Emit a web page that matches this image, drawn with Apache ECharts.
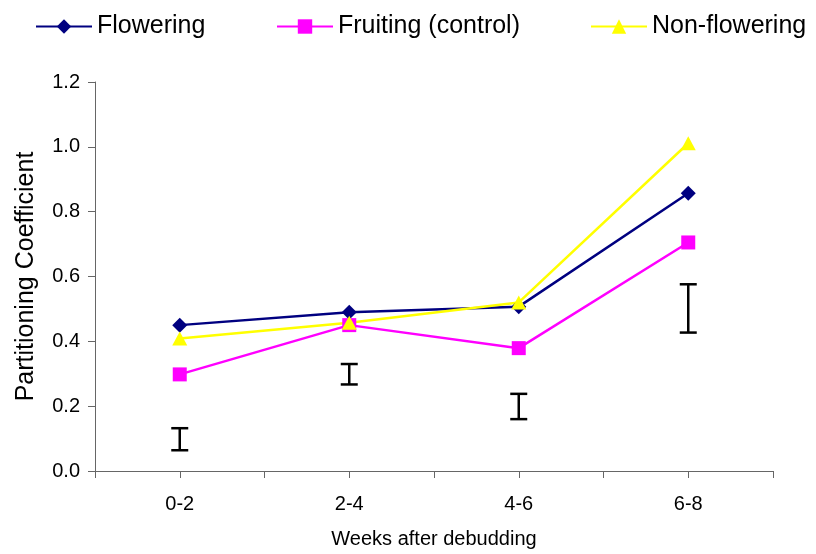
<!DOCTYPE html>
<html>
  <head>
    <title></title>
    <meta charset="UTF-8" />
    <script src="https://cdn.jsdelivr.net/npm/echarts@6/dist/echarts.min.js"></script>
    <style>
      body { margin: 0; background: #fff; }
    </style>
  </head>
  <body>
    <div id="main"></div>
    <script>
      const width = 816;
      const height = 554;
      const main = document.getElementById('main');
      main.style.width = `${width}px`;
      main.style.height = `${height}px`;

      const categories = ['0-2', '2-4', '4-6', '6-8'];
      const flowering = [0.45, 0.49, 0.507, 0.857];
      const fruiting = [0.298, 0.45, 0.379, 0.705];
      const nonFlowering = [0.409, 0.457, 0.52, 1.011];
      const errLow = [0.064, 0.267, 0.16, 0.427];
      const errHigh = [0.132, 0.33, 0.238, 0.576];
      const yTicks = [0, 0.2, 0.4, 0.6, 0.8, 1.0, 1.2];

      const font = 'Liberation Sans, Arial, sans-serif';
      // put each point in the middle of its category slot
      const toPoints = (arr) => arr.map((v, i) => [i + 0.5, v]);

      function renderErr(params, api) {
        const x = api.value(0);
        const lo = api.coord([x, api.value(1)]);
        const hi = api.coord([x, api.value(2)]);
        const w = 8.5;
        const style = { stroke: '#000', lineWidth: 2.5 };
        return {
          type: 'group',
          children: [
            { type: 'line', shape: { x1: lo[0], y1: lo[1], x2: hi[0], y2: hi[1] }, style },
            { type: 'line', shape: { x1: lo[0] - w, y1: lo[1], x2: lo[0] + w, y2: lo[1] }, style },
            { type: 'line', shape: { x1: hi[0] - w, y1: hi[1], x2: hi[0] + w, y2: hi[1] }, style },
          ],
        };
      }

      const legendBase = {
        top: 14,
        padding: 0,
        itemWidth: 56,
        itemHeight: 18,
        textStyle: { fontFamily: font, fontSize: 25, color: '#000' },
      };

      const myChart = echarts.init(main);
      const option = {
        animation: false,
        backgroundColor: '#fff',
        textStyle: { fontFamily: font },
        legend: [
          { ...legendBase, left: 35, data: ['Flowering'] },
          { ...legendBase, left: 276, data: ['Fruiting (control)'] },
          { ...legendBase, left: 590, data: ['Non-flowering'] },
        ],
        grid: { left: 95, right: 43, top: 82, bottom: 83 },
        xAxis: {
          type: 'value',
          min: 0,
          max: categories.length,
          interval: 0.5,
          name: 'Weeks after debudding',
          nameLocation: 'middle',
          nameGap: 58,
          nameTextStyle: { fontFamily: font, fontSize: 20, color: '#000' },
          splitLine: { show: false },
          axisLine: { lineStyle: { color: '#666', width: 1 } },
          axisTick: { show: true, length: 7, inside: false, lineStyle: { color: '#666' } },
          axisLabel: {
            margin: 23,
            fontSize: 20,
            color: '#000',
            fontFamily: font,
            showMinLabel: true,
            showMaxLabel: true,
            formatter: (v) => (Number.isInteger(v) ? '' : categories[Math.floor(v)]),
          },
        },
        yAxis: {
          type: 'value',
          min: 0,
          max: yTicks[yTicks.length - 1],
          interval: 0.2,
          name: 'Partitioning Coefficient',
          nameLocation: 'middle',
          nameGap: 56,
          nameTextStyle: { fontFamily: font, fontSize: 25, color: '#000' },
          splitLine: { show: false },
          axisLine: { show: true, lineStyle: { color: '#666', width: 1 } },
          axisTick: { show: true, length: 7, lineStyle: { color: '#666' } },
          axisLabel: {
            margin: 15,
            fontSize: 20,
            color: '#000',
            fontFamily: font,
            formatter: (v) => v.toFixed(1),
          },
        },
        series: [
          {
            name: 'Flowering',
            type: 'line',
            data: toPoints(flowering),
            symbol: 'diamond',
            symbolSize: [15, 15],
            color: '#000080',
            lineStyle: { color: '#000080', width: 2.5 },
            itemStyle: { color: '#000080' },
            z: 3,
          },
          {
            name: 'Fruiting (control)',
            type: 'line',
            data: toPoints(fruiting),
            symbol: 'rect',
            symbolSize: 14,
            color: '#ff00ff',
            lineStyle: { color: '#ff00ff', width: 2.5 },
            itemStyle: { color: '#ff00ff' },
            z: 3,
          },
          {
            name: 'Non-flowering',
            type: 'line',
            data: toPoints(nonFlowering),
            symbol: 'triangle',
            symbolSize: [15, 14],
            color: '#ffff00',
            lineStyle: { color: '#ffff00', width: 2.5 },
            itemStyle: { color: '#ffff00' },
            z: 3,
          },
          {
            type: 'custom',
            renderItem: renderErr,
            data: categories.map((c, i) => [i + 0.5, errLow[i], errHigh[i]]),
            encode: { x: 0, y: [1, 2] },
            z: 2,
          },
        ],
      };
      myChart.setOption(option);
    </script>
  </body>
</html>
